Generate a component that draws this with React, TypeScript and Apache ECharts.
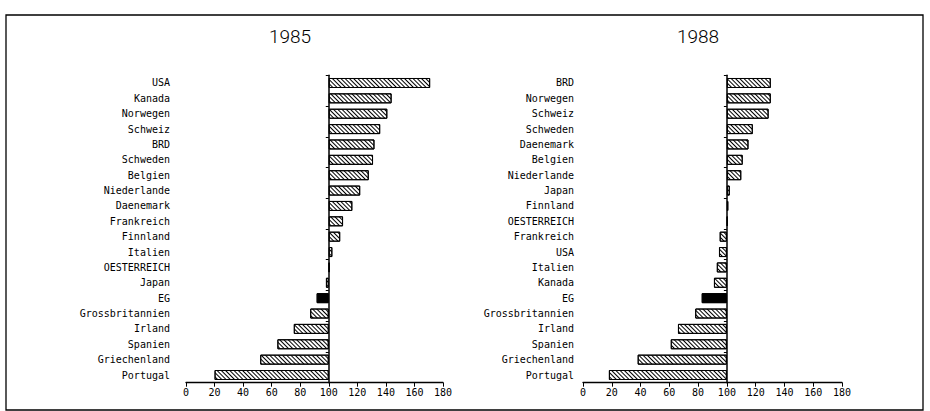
import React, { useEffect, useRef } from "react";
import * as echarts from "echarts";

const categories1985 = [
  "USA", "Kanada", "Norwegen", "Schweiz", "BRD", "Schweden", "Belgien",
  "Niederlande", "Daenemark", "Frankreich", "Finnland", "Italien",
  "OESTERREICH", "Japan", "EG", "Grossbritannien", "Irland", "Spanien",
  "Griechenland", "Portugal",
];
const values1985 = [
  171, 144, 141, 136, 132, 131, 128, 122, 116.5, 110, 108, 102.5, 100.5, 98,
  91.5, 87, 75.5, 64, 52, 20,
];

const categories1988 = [
  "BRD", "Norwegen", "Schweiz", "Schweden", "Daenemark", "Belgien",
  "Niederlande", "Japan", "Finnland", "OESTERREICH", "Frankreich", "USA",
  "Italien", "Kanada", "EG", "Grossbritannien", "Irland", "Spanien",
  "Griechenland", "Portugal",
];
const values1988 = [
  130.5, 130.5, 129, 118, 115, 111, 110, 102, 101, 100.5, 95, 94.5, 93, 91,
  82.5, 78, 66, 61, 38, 18,
];

const titles = ["1985", "1988"];
const baseline = 100;
const axisMin = 0;
const axisMax = 180;
const axisStep = 20;
const highlight = "EG";

const MONO = "'DejaVu Sans Mono', 'Liberation Mono', monospace";

export default function App() {
  const ref = useRef<HTMLDivElement>(null);

  useEffect(() => {
    if (!ref.current) return;
    const chart = echarts.init(ref.current, null, { renderer: "svg" });

    const grids = [
      { left: 186, width: 257, top: 75.3, height: 307.4 },
      { left: 583, width: 259, top: 75.3, height: 307.4 },
    ];
    const labelMargins = [16, 9];
    const datasets = [
      { cats: categories1985, vals: values1985 },
      { cats: categories1988, vals: values1988 },
    ];

    const hatch = {
      symbol: "rect",
      symbolSize: 1,
      color: "#000",
      backgroundColor: "#fff",
      dashArrayX: [1, 0],
      dashArrayY: [1, 1.6],
      rotation: Math.PI / 4,
    };

    const xAxis: any[] = [];
    const yAxis: any[] = [];
    const series: any[] = [];

    datasets.forEach((d, i) => {
      xAxis.push({
        type: "value",
        gridIndex: i,
        min: axisMin,
        max: axisMax,
        interval: axisStep,
        axisLine: { show: true, lineStyle: { color: "#000", width: 1.3 } },
        axisTick: { show: true, length: 4, lineStyle: { color: "#000" } },
        splitLine: { show: false },
        axisLabel: {
          color: "#000",
          fontFamily: MONO,
          fontSize: 10,
          margin: 5,
        },
      });
      yAxis.push({
        type: "category",
        gridIndex: i,
        data: d.cats,
        inverse: true,
        axisLine: { show: false },
        axisTick: { show: false },
        axisLabel: {
          color: "#000",
          fontFamily: MONO,
          fontSize: 10,
          margin: labelMargins[i],
        },
      });
      const offset = -(grids[i].width * (baseline - axisMin)) / (axisMax - axisMin);
      yAxis.push({
        type: "category",
        gridIndex: i,
        data: d.cats,
        inverse: true,
        position: "left",
        offset,
        axisLine: { show: true, lineStyle: { color: "#000", width: 1.5 } },
        axisTick: { show: true, length: 3, lineStyle: { color: "#000" } },
        axisLabel: { show: false },
      });

      const stack = "s" + i;
      series.push({
        type: "bar",
        xAxisIndex: i,
        yAxisIndex: i * 2,
        stack,
        barWidth: 10,
        silent: true,
        itemStyle: { color: "transparent" },
        data: d.vals.map((v) => Math.min(v, baseline)),
      });
      series.push({
        type: "bar",
        xAxisIndex: i,
        yAxisIndex: i * 2,
        stack,
        barWidth: 10,
        itemStyle: {
          color: "#fff",
          borderColor: "#000",
          borderWidth: 1,
          decal: hatch,
        },
        data: d.vals.map((v, k) => {
          const len = Math.abs(v - baseline);
          if (d.cats[k] === highlight) {
            return {
              value: len,
              itemStyle: { color: "#000", decal: { symbol: "none" } },
            };
          }
          return len;
        }),
      });
    });

    chart.setOption({
      animation: false,
      backgroundColor: "#fff",
      grid: grids,
      xAxis,
      yAxis,
      series,
      graphic: [
        {
          type: "rect",
          shape: { x: 6, y: 15, width: 917, height: 395 },
          style: { fill: "none", stroke: "#000", lineWidth: 1.3 },
          silent: true,
        },
        {
          type: "text",
          x: 290,
          y: 36,
          style: {
            text: titles[0],
            align: "center",
            verticalAlign: "middle",
            font: "300 19px Roboto, 'Liberation Sans', sans-serif",
            fill: "#000",
          },
        },
        {
          type: "text",
          x: 698,
          y: 36,
          style: {
            text: titles[1],
            align: "center",
            verticalAlign: "middle",
            font: "300 19px Roboto, 'Liberation Sans', sans-serif",
            fill: "#000",
          },
        },
      ],
    });

    return () => chart.dispose();
  }, []);

  return (
    <div
      ref={ref}
      style={{ position: "absolute", left: 0, top: 0, width: 930, height: 411 }}
    />
  );
}
